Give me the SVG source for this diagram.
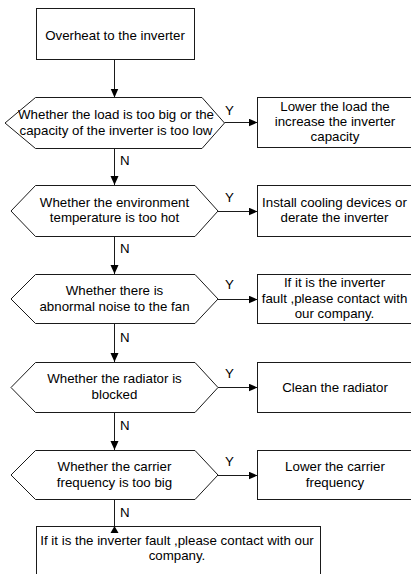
<svg xmlns="http://www.w3.org/2000/svg" width="411" height="574" viewBox="0 0 411 574">
<defs>
<style>
.box{fill:#fff;stroke:#1a1a1a;stroke-width:1}
.ln{fill:none;stroke:#1a1a1a;stroke-width:1}
text{font-family:"Liberation Sans",Arial,sans-serif;font-size:13.3px;fill:#000}
.c{text-anchor:middle}
</style>
<marker id="ah" markerUnits="userSpaceOnUse" markerWidth="10" markerHeight="9" refX="9" refY="4" orient="auto">
<path d="M0,0 L9,4 L0,8 z" fill="#000"/>
</marker>
</defs>
<rect width="411" height="574" fill="#fff"/>
<g id="connectors">
<line class="ln" x1="114.5" y1="59.5" x2="114.5" y2="97.5" marker-end="url(#ah)"/>
<line class="ln" x1="224.5" y1="122.5" x2="257.5" y2="122.5" marker-end="url(#ah)"/>
<line class="ln" x1="114.5" y1="148.5" x2="114.5" y2="185" marker-end="url(#ah)"/>
<line class="ln" x1="218" y1="211.5" x2="257.5" y2="211.5" marker-end="url(#ah)"/>
<line class="ln" x1="114.5" y1="236.5" x2="114.5" y2="274" marker-end="url(#ah)"/>
<line class="ln" x1="218" y1="299.5" x2="257.5" y2="299.5" marker-end="url(#ah)"/>
<line class="ln" x1="114.5" y1="324" x2="114.5" y2="362" marker-end="url(#ah)"/>
<line class="ln" x1="218" y1="387.5" x2="257.5" y2="387.5" marker-end="url(#ah)"/>
<line class="ln" x1="114.5" y1="412.5" x2="114.5" y2="450" marker-end="url(#ah)"/>
<line class="ln" x1="218" y1="475.5" x2="257.5" y2="475.5" marker-end="url(#ah)"/>
<line class="ln" x1="114.5" y1="500" x2="114.5" y2="526.5"/>
<text x="225" y="115">Y</text>
<text x="225" y="202">Y</text>
<text x="225" y="289">Y</text>
<text x="225" y="378">Y</text>
<text x="225" y="466">Y</text>
<text x="120" y="165">N</text>
<text x="120" y="253">N</text>
<text x="120" y="342">N</text>
<text x="120" y="430">N</text>
<text x="120" y="517">N</text>
</g>
<g id="start">
<rect class="box" x="36.5" y="8.5" width="158" height="51"/>
<text class="c" x="115" y="40">Overheat to the inverter</text>
</g>
<g id="d1">
<polygon class="box" points="5,123 35.5,97.5 202,97.5 224.5,123 202,148.5 35.5,148.5"/>
<text class="c" x="116" y="119">Whether the load is too big or the</text>
<text class="c" x="116" y="134.5">capacity of the inverter is too low</text>
</g>
<g id="a1">
<rect class="box" x="257.5" y="97.5" width="154" height="50"/>
<text class="c" x="335" y="111">Lower the load the</text>
<text class="c" x="335" y="126">increase the inverter</text>
<text class="c" x="335" y="141">capacity</text>
</g>
<g id="d2">
<polygon class="box" points="11,211 35.5,185.5 195,185.5 218,211 195,236.5 35.5,236.5"/>
<text class="c" x="114.5" y="207">Whether the environment</text>
<text class="c" x="114.5" y="222">temperature is too hot</text>
</g>
<g id="a2">
<rect class="box" x="257.5" y="185.5" width="154" height="51"/>
<text class="c" x="334.5" y="207">Install cooling devices or</text>
<text class="c" x="334.5" y="222">derate the inverter</text>
</g>
<g id="d3">
<polygon class="box" points="11,299 35.5,274.5 195,274.5 218,299 195,323.5 35.5,323.5"/>
<text class="c" x="114.5" y="295">Whether there is</text>
<text class="c" x="114.5" y="311">abnormal noise to the fan</text>
</g>
<g id="a3">
<rect class="box" x="257.5" y="274.5" width="154" height="49"/>
<text class="c" x="334.5" y="287">If it is the inverter</text>
<text class="c" x="334.5" y="303">fault ,please contact with</text>
<text class="c" x="334.5" y="318">our company.</text>
</g>
<g id="d4">
<polygon class="box" points="11,387.5 35.5,362.5 195,362.5 218,387.5 195,412.5 35.5,412.5"/>
<text class="c" x="114.5" y="383">Whether the radiator is</text>
<text class="c" x="114.5" y="399">blocked</text>
</g>
<g id="a4">
<rect class="box" x="257.5" y="362.5" width="154" height="50"/>
<text class="c" x="335" y="392">Clean the radiator</text>
</g>
<g id="d5">
<polygon class="box" points="11,475 35.5,450.5 195,450.5 218,475 195,499.5 35.5,499.5"/>
<text class="c" x="114.5" y="471">Whether the carrier</text>
<text class="c" x="114.5" y="487">frequency is too big</text>
</g>
<g id="a5">
<rect class="box" x="257.5" y="450.5" width="154" height="49"/>
<text class="c" x="335" y="471">Lower the carrier</text>
<text class="c" x="335" y="487">frequency</text>
</g>
<g id="end">
<rect class="box" x="36.5" y="526.5" width="284" height="60"/>
<polygon points="114.5,526 110.5,533 118.5,533" fill="#000"/>
<text class="c" x="177" y="545">If it is the inverter fault ,please contact with our</text>
<text class="c" x="177" y="560">company.</text>
</g>
</svg>
